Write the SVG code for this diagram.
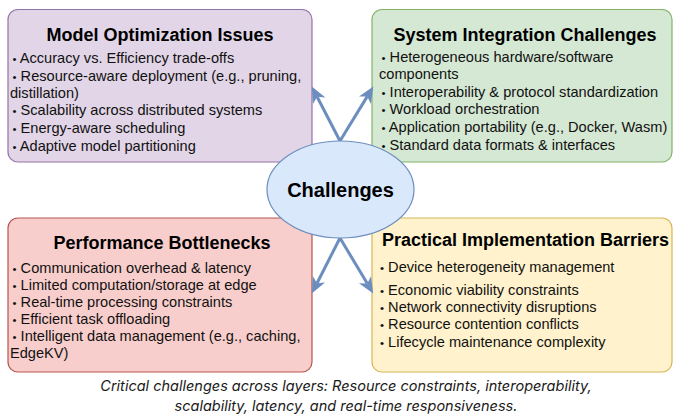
<svg xmlns="http://www.w3.org/2000/svg" width="673" height="420" viewBox="0 0 673 420">
<style>
.box{stroke-width:1.2}
.title{font-family:"Liberation Sans",Arial,sans-serif;font-size:18px;font-weight:bold;fill:#000;text-anchor:middle}
.item{font-family:"Liberation Sans",Arial,sans-serif;font-size:14.6px;fill:#111}
.b{font-size:11.5px}
.center{font-family:"Liberation Sans",Arial,sans-serif;font-size:20px;font-weight:bold;fill:#000;text-anchor:middle}
.cap{font-family:Inter,"Liberation Sans",sans-serif;font-size:14.5px;font-style:italic;fill:#1a1a1a;text-anchor:middle}
.arrow{stroke:#6c8ebf;stroke-width:3;fill:none}
</style>
<defs>
<marker id="ah" markerUnits="userSpaceOnUse" markerWidth="18" markerHeight="16" refX="4.5" refY="7" orient="auto">
<path d="M0,0 L16,7 L0,14 L4.5,7 Z" fill="#6c8ebf"/>
</marker>
</defs>
<rect width="673" height="420" fill="#fff"/>
<g id="model-optimization">
<rect class="box" x="8" y="9.5" width="304" height="152.5" rx="10" fill="#e1d5e7" stroke="#9673a6"/>
<text class="title" x="160" y="41">Model Optimization Issues</text>
<text class="item" x="12.5" y="63"><tspan class="b">•</tspan> Accuracy vs. Efficiency trade-offs</text>
<text class="item" x="12.5" y="81"><tspan class="b">•</tspan> Resource-aware deployment (e.g., pruning,</text>
<text class="item" x="10" y="98">distillation)</text>
<text class="item" x="12.5" y="115"><tspan class="b">•</tspan> Scalability across distributed systems</text>
<text class="item" x="12.5" y="133"><tspan class="b">•</tspan> Energy-aware scheduling</text>
<text class="item" x="12.5" y="151"><tspan class="b">•</tspan> Adaptive model partitioning</text>
</g>
<g id="system-integration">
<rect class="box" x="372" y="9.5" width="300" height="152.5" rx="10" fill="#d5e8d4" stroke="#82b366"/>
<text class="title" x="525" y="41">System Integration Challenges</text>
<text class="item" x="381.5" y="62"><tspan class="b">•</tspan> Heterogeneous hardware/software</text>
<text class="item" x="379" y="79">components</text>
<text class="item" x="381.5" y="97"><tspan class="b">•</tspan> Interoperability &amp; protocol standardization</text>
<text class="item" x="381.5" y="114"><tspan class="b">•</tspan> Workload orchestration</text>
<text class="item" x="381.5" y="132"><tspan class="b">•</tspan> Application portability (e.g., Docker, Wasm)</text>
<text class="item" x="381.5" y="150"><tspan class="b">•</tspan> Standard data formats &amp; interfaces</text>
</g>
<g id="performance-bottlenecks">
<rect class="box" x="8" y="218" width="304" height="154" rx="10" fill="#f8cecc" stroke="#b85450"/>
<text class="title" x="162" y="249">Performance Bottlenecks</text>
<text class="item" x="12.5" y="273"><tspan class="b">•</tspan> Communication overhead &amp; latency</text>
<text class="item" x="12.5" y="290"><tspan class="b">•</tspan> Limited computation/storage at edge</text>
<text class="item" x="12.5" y="307"><tspan class="b">•</tspan> Real-time processing constraints</text>
<text class="item" x="12.5" y="324"><tspan class="b">•</tspan> Efficient task offloading</text>
<text class="item" x="12.5" y="341"><tspan class="b">•</tspan> Intelligent data management (e.g., caching,</text>
<text class="item" x="10" y="358">EdgeKV)</text>
</g>
<g id="practical-implementation">
<rect class="box" x="372" y="218" width="300" height="154" rx="10" fill="#fff2cc" stroke="#d6b656"/>
<text class="title" x="525.5" y="246">Practical Implementation Barriers</text>
<text class="item" x="380" y="272"><tspan class="b">•</tspan> Device heterogeneity management</text>
<text class="item" x="380" y="295"><tspan class="b">•</tspan> Economic viability constraints</text>
<text class="item" x="380" y="312"><tspan class="b">•</tspan> Network connectivity disruptions</text>
<text class="item" x="380" y="329"><tspan class="b">•</tspan> Resource contention conflicts</text>
<text class="item" x="380" y="347"><tspan class="b">•</tspan> Lifecycle maintenance complexity</text>
</g>
<g id="connectors">
<line class="arrow" x1="340" y1="141" x2="317.1" y2="96.8" marker-end="url(#ah)"/>
<line class="arrow" x1="340" y1="141" x2="367.3" y2="96.4" marker-end="url(#ah)"/>
<line class="arrow" x1="340" y1="238" x2="317.0" y2="283.2" marker-end="url(#ah)"/>
<line class="arrow" x1="340" y1="238" x2="367.3" y2="283.6" marker-end="url(#ah)"/>
</g>
<g id="challenges">
<ellipse cx="340.5" cy="189.5" rx="73.5" ry="48.5" fill="#dae8fc" stroke="#6c8ebf" stroke-width="1.2"/>
<text class="center" x="340.5" y="197">Challenges</text>
</g>
<g id="caption">
<text class="cap" x="346" y="391">Critical challenges across layers: Resource constraints, interoperability,</text>
<text class="cap" x="346" y="411">scalability, latency, and real-time responsiveness.</text>
</g>
</svg>
